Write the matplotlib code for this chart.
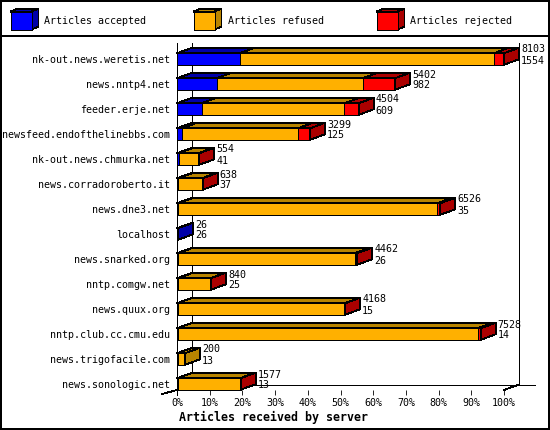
import numpy as np
import matplotlib
matplotlib.use("Agg")
import matplotlib.pyplot as plt
from matplotlib.patches import Rectangle, Polygon

servers = ["nk-out.news.weretis.net", "news.nntp4.net", "feeder.erje.net",
           "newsfeed.endofthelinebbs.com", "nk-out.news.chmurka.net",
           "news.corradoroberto.it", "news.dne3.net", "localhost",
           "news.snarked.org", "nntp.comgw.net", "news.quux.org",
           "nntp.club.cc.cmu.edu", "news.trigofacile.com", "news.sonologic.net"]
totals = [8103, 5402, 4504, 3299, 554, 638, 6526, 26, 4462, 840, 4168, 7528, 200, 1577]
accepted = [1554, 982, 609, 125, 41, 37, 35, 26, 26, 25, 15, 14, 13, 13]
refused = [6299, 3620, 3538, 2874, 483, 581, 6416, 0, 4376, 795, 4133, 7434, 187, 1549]
rejected = [250, 800, 357, 300, 30, 20, 75, 0, 60, 20, 20, 80, 0, 15]

series_names = ["Articles accepted", "Articles refused", "Articles rejected"]
front_cols = ["#0000ff", "#ffb000", "#ff0000"]
dark_cols = ["#0000a8", "#b88400", "#aa0000"]
xticks = list(range(0, 101, 10))
xticklabels = ["%d%%" % t for t in xticks]

plt.rcParams['font.family'] = ['DejaVu Sans Mono']

W, H = 550, 430
LW = 0.6
fig = plt.figure(figsize=(W / 100, H / 100), dpi=100)

# background axes in pixel units for frame + legend
bg = fig.add_axes([0, 0, 1, 1])
bg.set_xlim(0, W)
bg.set_ylim(H, 0)
bg.axis("off")
bg.add_patch(Rectangle((0.5, 0.5), W - 1.5, H - 1.5, fill=False, edgecolor="black", lw=1.2, antialiased=False))
bg.plot([0, W], [36, 36], color="black", lw=1.2, antialiased=False)

# legend cubes
for i, name in enumerate(series_names):
    x0 = 10.5 + 183 * i
    y0 = 11.6
    s, hgt, ddx, ddy = 21, 18, 7, 3
    bg.add_patch(Polygon([(x0, y0), (x0 + s, y0), (x0 + s + ddx, y0 - ddy), (x0 + ddx, y0 - ddy)],
                         facecolor=dark_cols[i], edgecolor="black", lw=LW, antialiased=False))
    bg.add_patch(Polygon([(x0 + s, y0), (x0 + s + ddx, y0 - ddy), (x0 + s + ddx, y0 + hgt - ddy), (x0 + s, y0 + hgt)],
                         facecolor=dark_cols[i], edgecolor="black", lw=LW, antialiased=False))
    bg.add_patch(Rectangle((x0, y0), s, hgt, facecolor=front_cols[i], edgecolor="black", lw=LW, antialiased=False))
    bg.text(x0 + 34, 21, name, fontsize=7.2, va="center", ha="left")

# main chart axes
left_px, right_px, top_px, bot_px = 177, 504, 40, 390
ax = fig.add_axes([left_px / W, (H - bot_px) / H, (right_px - left_px) / W, (bot_px - top_px) / H])
row_px = 25
y_top = -(59 - top_px) / row_px
y_bot = y_top + (bot_px - top_px) / row_px
ax.set_xlim(0, 100)
ax.set_ylim(y_bot, y_top)
ax.patch.set_visible(False)
for sp in ax.spines.values():
    sp.set_visible(False)

px_x = 100 / (right_px - left_px)
DX = 15 * px_x          # depth in data units
DY = 5.5 / row_px
bh = 11.5 / row_px

vmax = max(totals)
stack = np.array([accepted, refused, rejected], dtype=float) / vmax * 100

# walls / floor (behind the bars)
kw = dict(color="black", lw=LW, clip_on=False, antialiased=False, zorder=0.5)
wall_top = y_top + 2.5 / row_px
ax.plot([DX, DX], [wall_top, y_bot - DY], **kw)
ax.plot([100 + DX, 100 + DX], [wall_top, y_bot - DY], **kw)
ax.plot([DX, 100 + DX + 16 * px_x], [y_bot - DY, y_bot - DY], **kw)
ax.plot([100, 100 + DX], [y_bot, y_bot - DY], **kw)
ax.plot([-DX, 0], [y_bot + 4 / row_px, y_bot], **kw)
ax.plot([0, 0], [wall_top, y_bot + 5 / row_px], **kw)

for r in range(len(servers)):
    yt = r - bh / 2
    start = 0.0
    last = max(k for k in range(3) if stack[k, r] > 0)
    for k in range(3):
        w = stack[k, r]
        if w <= 0:
            continue
        x1 = start + w
        ax.add_patch(Polygon([(start, yt), (x1, yt), (x1 + DX, yt - DY), (start + DX, yt - DY)],
                             facecolor=dark_cols[k], edgecolor="black", lw=LW, clip_on=False,
                             antialiased=False, zorder=2))
        ax.add_patch(Rectangle((start, yt), w, bh, facecolor=front_cols[k], edgecolor="black",
                               lw=LW, clip_on=False, antialiased=False, zorder=2))
        if k == last:
            ax.add_patch(Polygon([(x1, yt), (x1 + DX, yt - DY), (x1 + DX, yt + bh - DY), (x1, yt + bh)],
                                 facecolor=dark_cols[k], edgecolor="black", lw=LW, clip_on=False,
                                 antialiased=False, zorder=2))
        start = x1
    ax.annotate(str(totals[r]), xy=(start, r), xytext=(17, 9.5), textcoords="offset pixels",
                fontsize=7.2, va="center", ha="left", annotation_clip=False, zorder=3)
    ax.annotate(str(accepted[r]), xy=(start, r), xytext=(17, -1.5), textcoords="offset pixels",
                fontsize=7.2, va="center", ha="left", annotation_clip=False, zorder=3)

ax.set_yticks(range(len(servers)))
ax.set_yticklabels(servers, fontsize=7.2)
ax.tick_params(axis="y", length=0, pad=5)
ax.set_xticks(xticks)
ax.set_xticklabels(xticklabels, fontsize=7.2)
ax.tick_params(axis="x", direction="out", length=3.6, width=LW, pad=2.5)

fig.text(273.5 / W, (H - 417) / H, "Articles received by server", fontsize=8.4,
         fontweight="bold", ha="center", va="center")

fig.savefig("out.png", dpi=100)
